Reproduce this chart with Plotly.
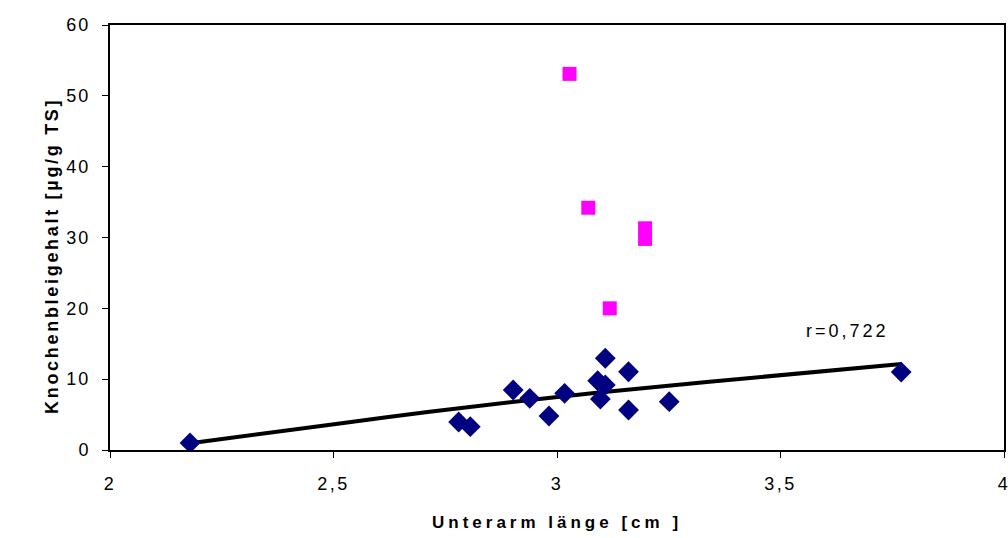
import plotly.graph_objects as go

# Blue series (Unterarmlänge vs Knochenbleigehalt)
blue_x = [2.179, 2.780, 2.806, 2.902, 2.939, 2.982, 3.017, 3.091, 3.108, 3.097,
          3.108, 3.160, 3.160, 3.251, 3.770]
blue_y = [1.0, 3.95, 3.3, 8.47, 7.3, 4.8, 8.0, 9.78, 9.18, 7.2,
          12.95, 11.05, 5.65, 6.82, 11.0]

# Magenta series
pink_x = [3.028, 3.070, 3.197, 3.197, 3.118]
pink_y = [53.1, 34.2, 31.3, 29.8, 20.0]

# Trend curve, values
trend_x = [2.179, 2.514, 2.715, 3.017, 3.341, 3.771]
trend_y = [0.95, 3.75, 5.4, 7.6, 9.64, 12.14]

x_ticks = [2, 2.5, 3, 3.5, 4]
x_ticktext = ["2", "2,5", "3", "3,5", "4"]
y_ticks = [0, 10, 20, 30, 40, 50, 60]
y_ticktext = ["0", "10", "20", "30", "40", "50", "60"]


def spaced(t, px):
    return '<span style="letter-spacing:%spx">%s</span>' % (px, t)


fig = go.Figure()
fig.add_trace(go.Scatter(x=trend_x, y=trend_y, mode="lines",
                         line=dict(color="black", width=4, shape="spline",
                                   smoothing=1.0),
                         showlegend=False, hoverinfo="skip"))
fig.add_trace(go.Scatter(x=blue_x, y=blue_y, mode="markers",
                         marker=dict(symbol="diamond", size=16, color="#000080",
                                     line=dict(width=0)), showlegend=False))
fig.add_trace(go.Scatter(x=pink_x, y=pink_y, mode="markers",
                         marker=dict(symbol="square", size=14, color="#FF00FF",
                                     line=dict(width=0)), showlegend=False))

font = "Liberation Sans, Arial, sans-serif"
L, R, T, B = 110, 4, 25, 88
W, H = 1008, 538
plot_h = H - T - B
plot_w = W - L - R

fig.update_layout(
    width=W, height=H,
    margin=dict(l=L, r=R, t=T, b=B),
    paper_bgcolor="white", plot_bgcolor="white",
    font=dict(family=font, size=18, color="black"),
    xaxis=dict(range=[2, 4], tickvals=x_ticks,
               ticktext=[spaced(t, 2.5) for t in x_ticktext],
               showgrid=False, zeroline=False, showline=True, linecolor="black",
               linewidth=2, mirror=True, ticks="outside", ticklen=6,
               tickcolor="black", ticklabelstandoff=10,
               ticklabeloverflow="allow", automargin=False),
    yaxis=dict(range=[0, 60], tickvals=y_ticks,
               ticktext=[spaced(t, 2) for t in y_ticktext],
               showgrid=False, zeroline=False,
               showline=True, linecolor="black", linewidth=2, mirror=True,
               ticks="outside", ticklen=6, tickcolor="black",
               ticklabelstandoff=8, ticklabeloverflow="allow",
               automargin=False),
    annotations=[
        dict(x=3.649, y=16.8, xref="x", yref="y", text=spaced("r=0,722", 3),
             showarrow=False, font=dict(size=18, family=font)),
        dict(x=0.5, y=(H - B - 522) / plot_h, xref="paper", yref="paper",
             yanchor="middle",
             text=spaced("<b>Unterarm länge [cm ]</b>", 4),
             showarrow=False, font=dict(size=17, family=font)),
        dict(x=(40 - L) / plot_w, y=(H - B - 256) / plot_h, xref="paper",
             yref="paper", textangle=-90,
             text=spaced("<b>Knochenbleigehalt [µg/g TS]</b>", 2.7),
             showarrow=False, font=dict(size=18, family=font)),
    ],
)

fig.write_html("out.html")
